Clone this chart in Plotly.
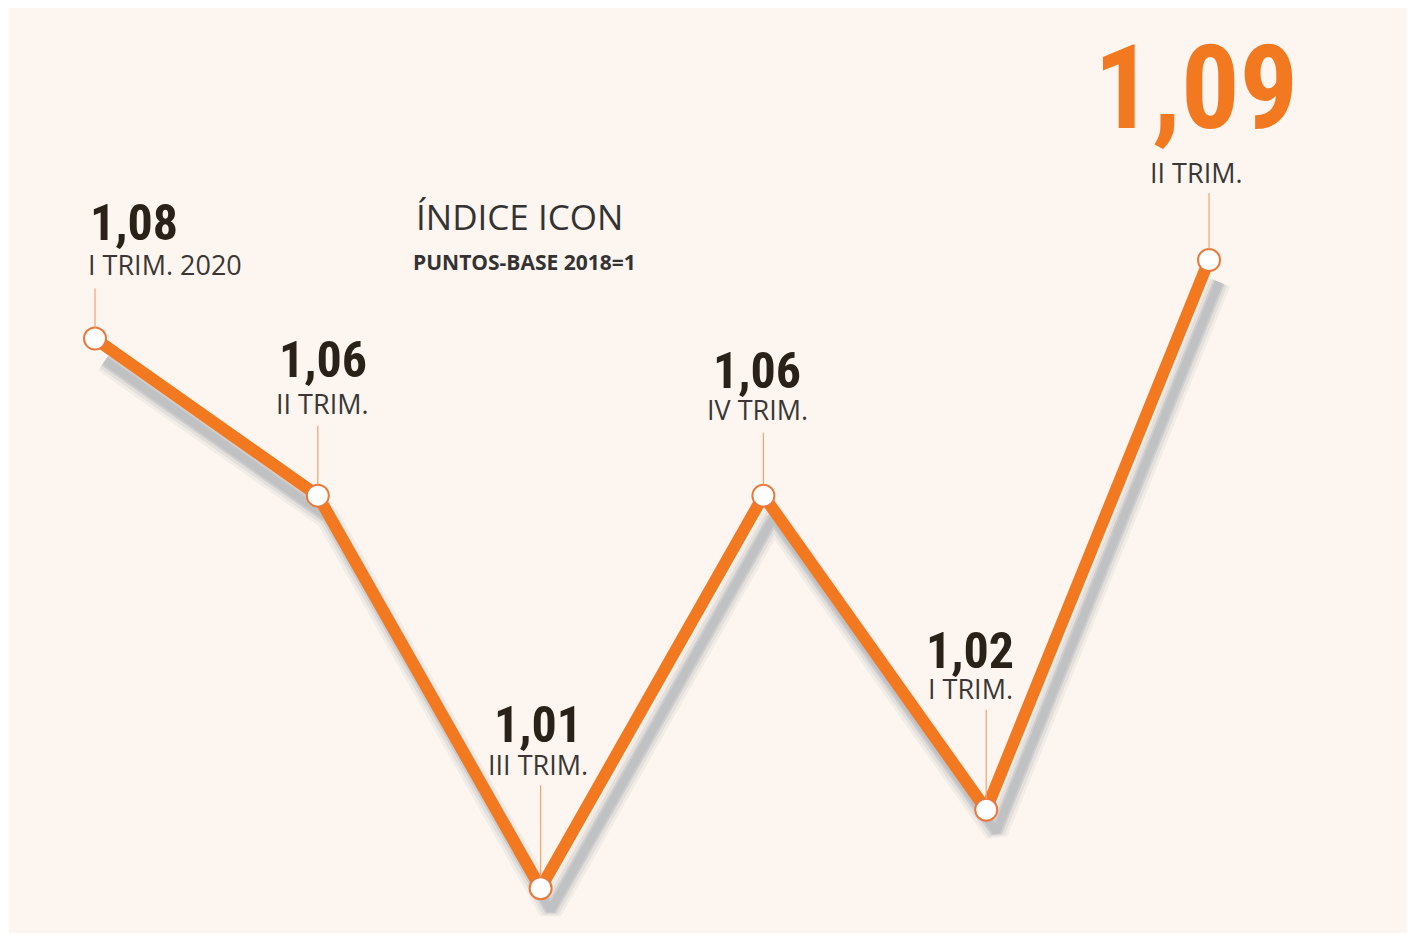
import plotly.graph_objects as go

# ---------------- data ----------------
quarters = ["I TRIM. 2020", "II TRIM.", "III TRIM.", "IV TRIM.", "I TRIM.", "II TRIM."]
values = [1.08, 1.06, 1.01, 1.06, 1.02, 1.09]
title_text = "ÍNDICE ICON"
subtitle_text = "PUNTOS-BASE 2018=1"

# ---------------- style ----------------
OFF = 8                       # page body margin
W, H = 1407, 926
ML, MR, MT, MB = 1, 5, 0, 1
PW, PH = W - ML - MR, H - MT - MB
X_RANGE = [-0.386, 5.902]
Y_RANGE = [1.0043, 1.1221]
BG = "#fdf5ef"
ORANGE = "#f37920"
NUM_COLOR = "#2a2119"
TRIM_COLOR = "#3a3736"
LEADER = "#f2a36d"
NUM_FONT = "Roboto Condensed, Roboto, DejaVu Sans Condensed, sans-serif"
TXT_FONT = "Open Sans, sans-serif"

# label placement (pixels relative to each point; up is positive)
num_dy = [116, 136, 163, 125, 159, 172]
trim_dy = [74, 92, 124, 86, 121, 88]
lead_top = [50, 70, 103, 63, 100, 67]
lab_dx = [-7, 5, -3, -6, -16, -13]
lab_anchor = ["left", "center", "center", "center", "center", "center"]

x = list(range(len(values)))
xpx = (X_RANGE[1] - X_RANGE[0]) / PW
ypx = (Y_RANGE[1] - Y_RANGE[0]) / PH
SH_DX, SH_DY = 10, 22

fig = go.Figure()

# shadow (on the shifted primary axis pair, drawn beneath)
for w, c in [(24, "rgba(150,156,162,0.10)"), (18, "rgba(150,156,162,0.16)"),
             (12, "rgba(165,170,175,0.35)"), (8, "rgba(175,180,184,0.45)")]:
    fig.add_trace(go.Scatter(x=x, y=values, mode="lines", xaxis="x", yaxis="y",
                             line=dict(color=c, width=w), hoverinfo="skip", showlegend=False))

# main line (on the overlaying axis pair, drawn on top)
fig.add_trace(go.Scatter(
    x=x, y=values, mode="lines+markers", xaxis="x2", yaxis="y2",
    line=dict(color=ORANGE, width=12),
    marker=dict(size=22, color="white", line=dict(color="#e8793a", width=2)),
    showlegend=False, hoverinfo="skip"))

# leader lines
for i, v in enumerate(values):
    fig.add_shape(type="line", xref="x2", yref="y2", ysizemode="pixel", yanchor=v,
                  x0=i, x1=i, y0=11, y1=lead_top[i],
                  line=dict(color=LEADER, width=1.2))

# labels
for i, (q, v) in enumerate(zip(quarters, values)):
    last = i == len(values) - 1
    fig.add_annotation(x=i, y=v, xref="x2", yref="y2", text=f"{v:.2f}".replace(".", ","),
                       showarrow=False, xanchor=lab_anchor[i], yanchor="middle",
                       xshift=lab_dx[i], yshift=num_dy[i],
                       font=dict(family=NUM_FONT, size=116 if last else 50,
                                 color=ORANGE if last else NUM_COLOR, weight="bold"))
    fig.add_annotation(x=i, y=v, xref="x2", yref="y2", text=q,
                       showarrow=False, xanchor=lab_anchor[i], yanchor="middle",
                       xshift=lab_dx[i] - (2 if lab_anchor[i] == "left" else 0),
                       yshift=trim_dy[i],
                       font=dict(family=TXT_FONT, size=27, color=TRIM_COLOR))

# title
fig.add_annotation(xref="paper", yref="paper", x=(414 - OFF - ML) / PW,
                   y=1 - (216 - OFF - MT) / PH,
                   text=title_text, showarrow=False, xanchor="left", yanchor="middle",
                   font=dict(family=TXT_FONT, size=35, color="#333333"))
fig.add_annotation(xref="paper", yref="paper", x=(411 - OFF - ML) / PW,
                   y=1 - (262 - OFF - MT) / PH,
                   text=subtitle_text, showarrow=False, xanchor="left", yanchor="middle",
                   font=dict(family=TXT_FONT, size=21, color="#333333", weight="bold"))

ax = dict(visible=False, fixedrange=True, showgrid=False, zeroline=False)
fig.update_layout(
    width=W, height=H,
    margin=dict(l=ML, r=MR, t=MT, b=MB, pad=0),
    paper_bgcolor="white", plot_bgcolor=BG,
    xaxis=dict(range=[X_RANGE[0] - SH_DX * xpx, X_RANGE[1] - SH_DX * xpx], **ax),
    yaxis=dict(range=[Y_RANGE[0] + SH_DY * ypx, Y_RANGE[1] + SH_DY * ypx], **ax),
    xaxis2=dict(range=X_RANGE, overlaying="x", anchor="y2", **ax),
    yaxis2=dict(range=Y_RANGE, overlaying="y", anchor="x2", **ax),
    showlegend=False,
)

fig.write_html("out.html")
